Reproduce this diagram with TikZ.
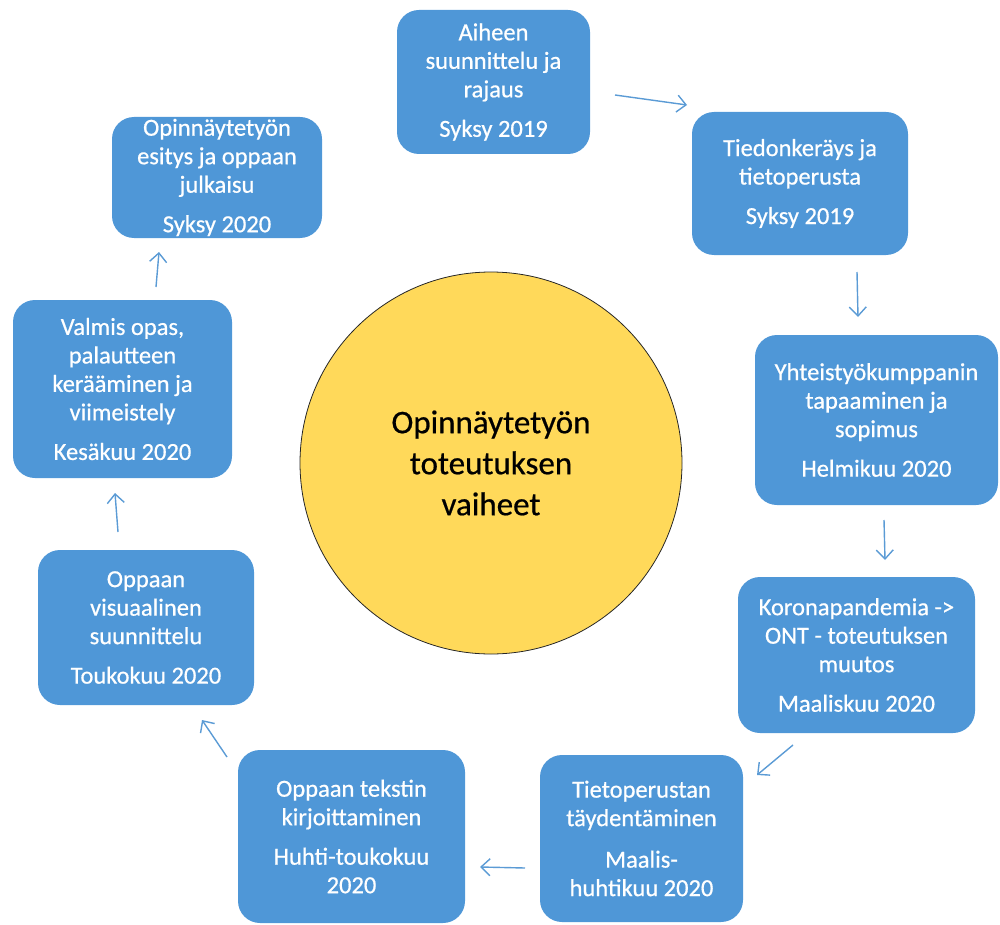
\documentclass[tikz,border=0pt]{standalone}
\usepackage{fontspec}
\setmainfont{Carlito}
\newfontfamily\boxfont{Carlito}[FakeBold=0.6]
\usetikzlibrary{arrows.meta}
\definecolor{boxblue}{HTML}{4F97D7}
\definecolor{arrowblue}{HTML}{5B9BD5}
\definecolor{sun}{HTML}{FFD95A}
\begin{document}
\begin{tikzpicture}[x=1pt,y=-1pt,
  stage/.style={fill=boxblue, rounded corners=22pt, text=white, align=center, inner sep=0pt,
    font=\boxfont\fontsize{24.5}{28.5}\selectfont},
  hub/.style={circle, fill=sun, draw=black!85, line width=0.8pt, inner sep=0pt, align=center,
    font=\boxfont\fontsize{33}{41}\selectfont},
  flow/.style={draw=arrowblue, line width=1.4pt,
    -{Straight Barb[length=9pt,width=17pt,line width=1.4pt]}}]
\useasboundingbox (0,0) rectangle (1000,925);

\node[hub, minimum size=382pt] (hub) at (491,463) {Opinnäytetyön\\toteutuksen\\vaiheet};

\node[stage, minimum width=193pt, minimum height=144pt] (s1) at (493.5,82)
  {Aiheen\\suunnittelu ja\\rajaus\\[11pt]Syksy 2019};
\node[stage, minimum width=216pt, minimum height=143pt] (s2) at (800,183.5)
  {Tiedonkeräys ja\\tietoperusta\\[11pt]Syksy 2019};
\node[stage, minimum width=243pt, minimum height=170pt] (s3) at (876.5,420)
  {Yhteistyökumppanin\\tapaaminen ja\\sopimus\\[11pt]Helmikuu 2020};
\node[stage, minimum width=237pt, minimum height=156pt] (s4) at (856.5,655)
  {Koronapandemia ->\\ONT - toteutuksen\\muutos\\[11pt]Maaliskuu 2020};
\node[stage, minimum width=203pt, minimum height=167pt] (s5) at (641.5,838.5)
  {Tietoperustan\\täydentäminen\\[13pt]Maalis-\\huhtikuu 2020};
\node[stage, minimum width=227pt, minimum height=173pt] (s6) at (351.5,836.5)
  {Oppaan tekstin\\kirjoittaminen\\[11pt]Huhti-toukokuu\\2020};
\node[stage, minimum width=216pt, minimum height=155pt] (s7) at (146,627.5)
  {Oppaan\\visuaalinen\\suunnittelu\\[11pt]Toukokuu 2020};
\node[stage, minimum width=219pt, minimum height=178pt] (s8) at (122.5,389)
  {Valmis opas,\\palautteen\\kerääminen ja\\viimeistely\\[11pt]Kesäkuu 2020};
\node[stage, minimum width=210pt, minimum height=121pt] (s9) at (217,177.5)
  {Opinnäytetyön\\esitys ja oppaan\\julkaisu\\[11pt]Syksy 2020};

\coordinate (a1s) at (615,95);  \coordinate (a1e) at (687,105);
\coordinate (a2s) at (857,272); \coordinate (a2e) at (858,317);
\coordinate (a3s) at (884,520); \coordinate (a3e) at (885,560);
\coordinate (a4s) at (793,745); \coordinate (a4e) at (757,775);
\coordinate (a5s) at (525,868); \coordinate (a5e) at (480,867);
\coordinate (a6s) at (227,757); \coordinate (a6e) at (202,720);
\coordinate (a7s) at (118,532); \coordinate (a7e) at (115,493);
\coordinate (a8s) at (156,287); \coordinate (a8e) at (159,252);

\draw[flow] (a1s) -- (a1e);
\draw[flow] (a2s) -- (a2e);
\draw[flow] (a3s) -- (a3e);
\draw[flow] (a4s) -- (a4e);
\draw[flow] (a5s) -- (a5e);
\draw[flow] (a6s) -- (a6e);
\draw[flow] (a7s) -- (a7e);
\draw[flow] (a8s) -- (a8e);
\end{tikzpicture}
\end{document}
